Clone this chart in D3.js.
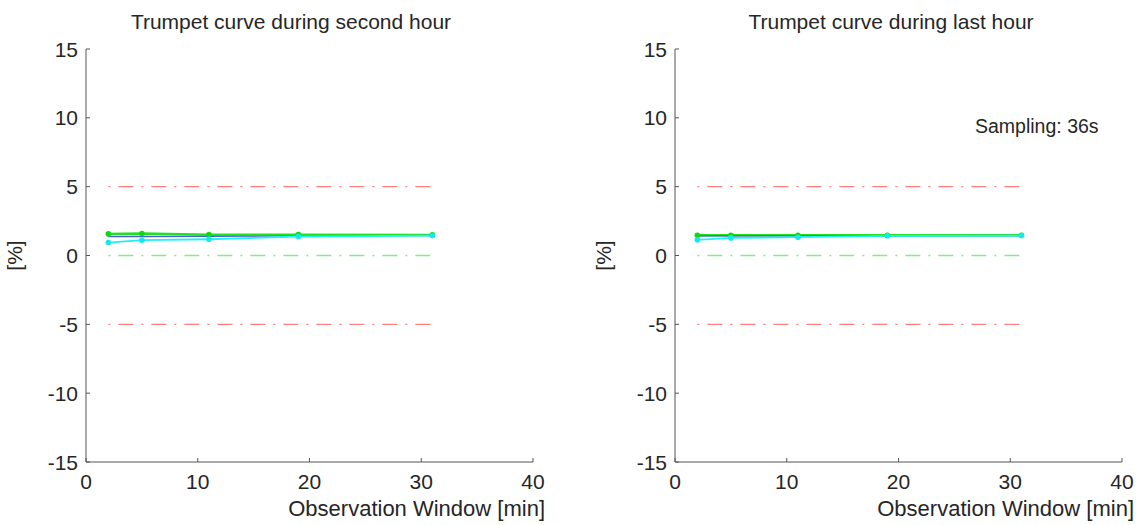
<!DOCTYPE html>
<html>
<head>
<script src="https://d3js.org/d3.v7.min.js"></script>
<style>
  body { margin: 0; background: #fff; }
  text { font-family: "Liberation Sans", Arial, sans-serif; fill: #262626; }
</style>
</head>
<body>
<svg id="chart" width="1143" height="525"></svg>
<script>
// observation windows (min)
var windows = [2, 5, 11, 19, 31]
var xTicks = [0, 10, 20, 30, 40]
var yTicks = [-15, -10, -5, 0, 5, 10, 15]

// second hour
var maxSecond = [1.57, 1.6, 1.52, 1.52, 1.5]
var meanSecond = [1.38, 1.38, 1.4, 1.42, 1.45]
var minSecond = [0.94, 1.11, 1.18, 1.38, 1.45]

// last hour
var maxLast = [1.47, 1.47, 1.47, 1.47, 1.47]
var meanLast = [1.42, 1.42, 1.42, 1.43, 1.45]
var minLast = [1.14, 1.28, 1.33, 1.43, 1.45]

var limits = [5, -5]
var panels = [
  { title: "Trumpet curve during second hour", left: 86, titleX: 291, max: maxSecond, mean: meanSecond, min: minSecond },
  { title: "Trumpet curve during last hour", left: 675, titleX: 891, max: maxLast, mean: meanLast, min: minLast, note: "Sampling: 36s" }
]

var svg = d3.select("#chart")
var w = 447, plotTop = 49, h = 413

panels.forEach(function(p) {
  var g = svg.append("g").attr("transform", "translate(" + p.left + "," + plotTop + ")")
  var x = d3.scaleLinear().domain([0, 40]).range([0, w])
  var y = d3.scaleLinear().domain([-15, 15]).range([h, 0])

  // axes lines
  g.append("line").attr("x1", 0).attr("x2", 0).attr("y1", 0).attr("y2", h)
    .attr("stroke", "#555").attr("stroke-width", 1)
  g.append("line").attr("x1", 0).attr("x2", w).attr("y1", h).attr("y2", h)
    .attr("stroke", "#555").attr("stroke-width", 1)

  // ticks (inward)
  g.selectAll(".yt").data(yTicks).enter().append("line")
    .attr("x1", 0).attr("x2", 4).attr("y1", function(d) { return y(d) }).attr("y2", function(d) { return y(d) })
    .attr("stroke", "#555")
  g.selectAll(".xt").data(xTicks).enter().append("line")
    .attr("x1", function(d) { return x(d) }).attr("x2", function(d) { return x(d) }).attr("y1", h).attr("y2", h - 4)
    .attr("stroke", "#555")

  g.selectAll(".yl").data(yTicks).enter().append("text")
    .attr("x", -8).attr("y", function(d) { return y(d) + 7.5 })
    .attr("text-anchor", "end").attr("font-size", 21)
    .text(function(d) { return d })
  g.selectAll(".xl").data(xTicks).enter().append("text")
    .attr("x", function(d) { return x(d) }).attr("y", h + 27)
    .attr("text-anchor", "middle").attr("font-size", 21)
    .text(function(d) { return d })

  // limit lines
  var dash = "2,8,15,8"
  limits.forEach(function(l) {
    g.append("line").attr("x1", x(windows[0])).attr("x2", x(windows[windows.length - 1]))
      .attr("y1", y(l)).attr("y2", y(l))
      .attr("stroke", "#ff7f7f").attr("stroke-width", 1.3).attr("stroke-dasharray", dash)
  })
  g.append("line").attr("x1", x(windows[0])).attr("x2", x(windows[windows.length - 1]))
    .attr("y1", y(0)).attr("y2", y(0))
    .attr("stroke", "#80f080").attr("stroke-width", 1.3).attr("stroke-dasharray", dash)

  var line = d3.line().x(function(d, i) { return x(windows[i]) }).y(function(d) { return y(d) })

  g.append("path").datum(p.max).attr("d", line).attr("fill", "none")
    .attr("stroke", "#22e022").attr("stroke-width", 2.4)
  g.append("path").datum(p.mean).attr("d", line).attr("fill", "none")
    .attr("stroke", "#4a60d8").attr("stroke-width", 1.3)
  g.append("path").datum(p.min).attr("d", line).attr("fill", "none")
    .attr("stroke", "#20f0f8").attr("stroke-width", 1.8)

  g.selectAll(".pmax").data(p.max).enter().append("circle")
    .attr("cx", function(d, i) { return x(windows[i]) }).attr("cy", function(d) { return y(d) })
    .attr("r", 2.8).attr("fill", "#10d810")
  g.selectAll(".pmin").data(p.min).enter().append("circle")
    .attr("cx", function(d, i) { return x(windows[i]) }).attr("cy", function(d) { return y(d) })
    .attr("r", 2.8).attr("fill", "#10e8f4")

  // titles and labels
  svg.append("text").attr("x", p.titleX).attr("y", 29).attr("text-anchor", "middle")
    .attr("font-size", 21).text(p.title)
  svg.append("text").attr("x", p.left + w + 12).attr("y", plotTop + h + 54).attr("text-anchor", "end")
    .attr("font-size", 22).text("Observation Window [min]")
  svg.append("text").attr("transform", "translate(" + (p.left - 64) + "," + (plotTop + h / 2) + ") rotate(-90)")
    .attr("text-anchor", "middle").attr("font-size", 21).text("[%]")
  if (p.note) {
    svg.append("text").attr("x", 975).attr("y", 133).attr("font-size", 19.5).text(p.note)
  }
})
</script>
</body>
</html>
